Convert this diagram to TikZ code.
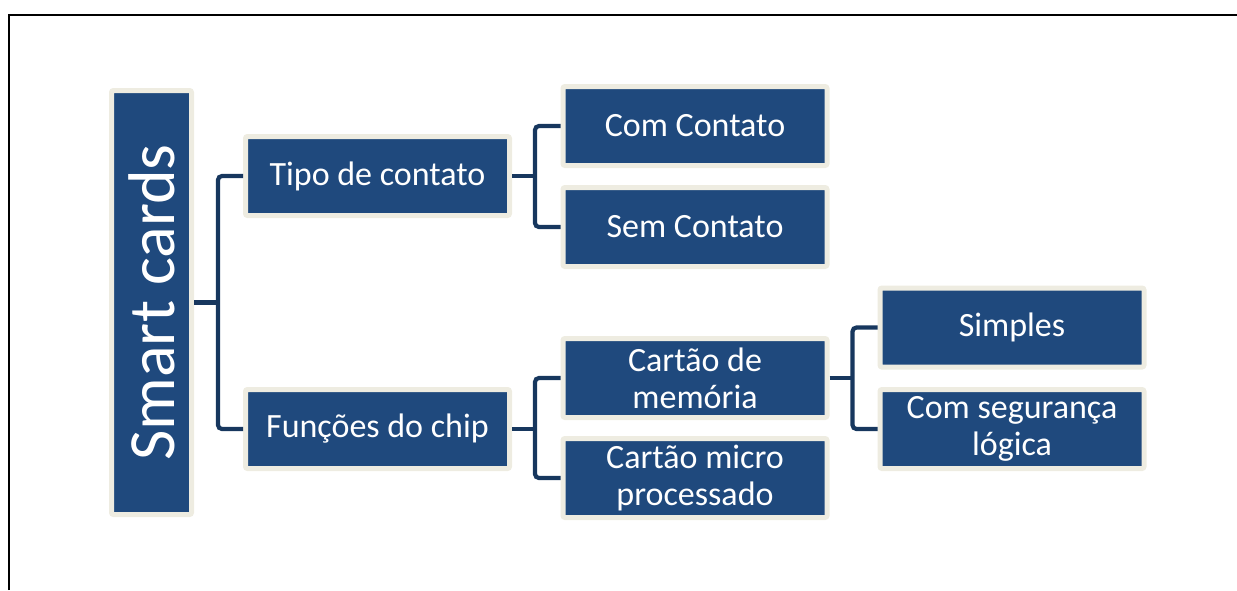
\documentclass[tikz,border=0pt]{standalone}
\usepackage{fontspec}
\setmainfont{Carlito}
\usetikzlibrary{positioning}

\definecolor{boxblue}{HTML}{1F497D}
\definecolor{boxrim}{HTML}{EEECE1}
\definecolor{linkblue}{HTML}{17375E}

\tikzset{
  cardbox/.style={fill=boxblue, draw=boxrim, line width=2.5pt, rounded corners=1pt,
    text=white, align=center, minimum width=132pt, minimum height=39.5pt,
    inner sep=0pt, font=\fontsize{17}{18.5}\selectfont},
  link/.style={draw=linkblue, line width=2.1pt, rounded corners=2pt}
}

\begin{document}
\begin{tikzpicture}[x=0.5pt,y=-0.5pt]
\useasboundingbox (0,0) rectangle (1237,590);
% frame
\draw[line width=1pt] (9,590) -- (9,15) -- (1237,15);

% root, standing on its side
\node[cardbox, rotate=90, minimum width=212pt, minimum height=40pt,
  font=\fontsize{33}{36}\selectfont] (smart) at (151.5,302.5) {Smart cards};

\node[cardbox] (tipo) at (377.5,176) {Tipo de contato};
\node[cardbox] (funcoes) at (377.5,429) {Funções do chip};

% second level
\foreach \n/\y/\t in {com/126/{Com Contato}, sem/227/{Sem Contato},
    memoria/378/{Cartão de\\memória}, micro/478/{Cartão micro\\processado}}
  \node[cardbox] (\n) at (695,\y) {\t};

% third level
\node[cardbox] (simples) at (1012,327.5) {Simples};
\node[cardbox] (seguranca) at (1012,429) {Com segurança\\lógica};

% connectors (smart is turned, so its right side is south)
\draw[link] (smart.south) -- ++(24,0) coordinate (f1);
\draw[link] (tipo.west) -| (f1) |- (funcoes.west);

\draw[link] (tipo.east) -- ++(23,0) coordinate (f2);
\draw[link] (com.west) -| (f2) |- (sem.west);

\draw[link] (funcoes.east) -- ++(23,0) coordinate (f3);
\draw[link] (memoria.west) -| (f3) |- (micro.west);

\draw[link] (memoria.east) -- ++(23,0) coordinate (f4);
\draw[link] (simples.west) -| (f4) |- (seguranca.west);
\end{tikzpicture}
\end{document}
